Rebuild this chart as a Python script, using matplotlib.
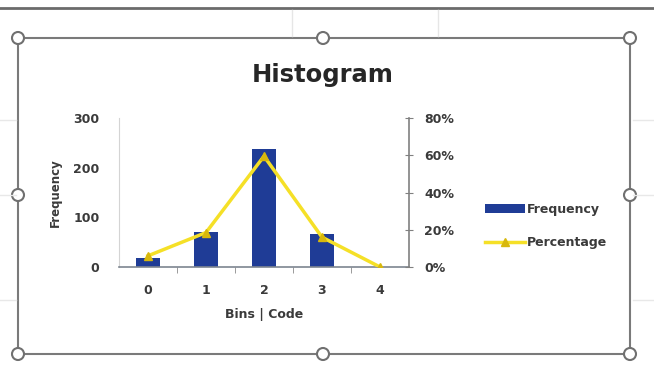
import matplotlib.pyplot as plt
import numpy as np
from matplotlib.patches import Rectangle, Circle
from matplotlib.lines import Line2D
from matplotlib.ticker import FixedLocator, PercentFormatter

bins = ["0", "1", "2", "3", "4"]
frequency = [18, 70, 238, 66, 0]
percentage = [0.06, 0.185, 0.595, 0.16, 0.0]

bar_color = '#1f3c96'
line_color = '#f5e027'
marker_color = '#d8b80c'
text_color = '#3a3a3a'

W, H = 654, 366
fig = plt.figure(figsize=(W / 100, H / 100), dpi=100)

# screenshot background: sheet lines, chart frame and selection handles
bg = fig.add_axes([0, 0, 1, 1], zorder=-1)
bg.set_xlim(0, W)
bg.set_ylim(H, 0)
bg.axis('off')
bg.add_line(Line2D([0, W], [8, 8], color='#6b6b6b', lw=2))
for x in [292, 438]:
    bg.add_line(Line2D([x, x], [10, 36], color='#e6e6e6', lw=1))
for y in [120, 195, 300]:
    bg.add_line(Line2D([0, 16], [y, y], color='#e8e8e8', lw=1))
    bg.add_line(Line2D([633, W], [y, y], color='#e8e8e8', lw=1))
bg.add_patch(Rectangle((18, 38), 612, 316, fill=False, ec='#7a7a7a', lw=1.5))
for cx, cy in [(18, 38), (323, 38), (630, 38), (18, 195), (630, 195),
               (18, 354), (323, 354), (630, 354)]:
    bg.add_patch(Circle((cx, cy), 6, fc='white', ec='#707070', lw=1.5))

ax = fig.add_axes([119 / W, 1 - 267 / H, (409 - 119) / W, (267 - 118) / H])
x = np.arange(len(bins))
ax.bar(x, frequency, width=0.42, color=bar_color, label='Frequency', zorder=2)
ax.set_xlim(-0.5, 4.5)
ax.set_ylim(0, 300)
ax.set_yticks([0, 100, 200, 300])
ax.set_xticks(x)
ax.set_xticklabels(bins)
ax.xaxis.set_minor_locator(FixedLocator([0.5, 1.5, 2.5, 3.5]))
ax.tick_params(axis='x', which='major', length=0, pad=12)
ax.tick_params(axis='x', which='minor', length=4, color='#8a8a8a', direction='out')
ax.tick_params(axis='y', length=0, pad=14)
for lab in ax.get_xticklabels() + ax.get_yticklabels():
    lab.set_fontweight('bold')
    lab.set_fontsize(9)
    lab.set_color(text_color)
for s in ['top', 'right']:
    ax.spines[s].set_visible(False)
ax.spines['left'].set_color('#d4d4d4')
ax.spines['bottom'].set_color('#7d8590')
ax.spines['bottom'].set_linewidth(1.2)
ax.set_xlabel('Bins | Code', fontsize=9, fontweight='bold', color=text_color, labelpad=8)
ax.set_ylabel('Frequency', fontsize=8.5, fontweight='bold', color=text_color, labelpad=8)

ax2 = ax.twinx()
ax2.plot(x, percentage, color=line_color, lw=2.5, marker='^', markersize=6,
         markerfacecolor=marker_color, markeredgecolor=marker_color,
         label='Percentage', zorder=3)
ax2.set_ylim(0, 0.8)
ax2.set_yticks([0, 0.2, 0.4, 0.6, 0.8])
ax2.yaxis.set_major_formatter(PercentFormatter(1.0, decimals=0))
ax2.tick_params(axis='y', direction='inout', length=6, color='#808080', pad=8)
for lab in ax2.get_yticklabels():
    lab.set_fontweight('bold')
    lab.set_fontsize(9)
    lab.set_color(text_color)
for s in ['top', 'left', 'bottom']:
    ax2.spines[s].set_visible(False)
ax2.spines['right'].set_color('#808080')
ax2.spines['right'].set_linewidth(1.2)

fig.text(323 / W, 1 - 75 / H, 'Histogram', ha='center', va='center',
         fontsize=17.5, fontweight='bold', color='#262626')

handles = [ax.patches[0], ax2.lines[0]]
fig.legend(handles, ['Frequency', 'Percentage'], loc='center left',
           bbox_to_anchor=(474 / W, 1 - 226 / H), frameon=False,
           prop={'weight': 'bold', 'size': 9}, labelcolor=text_color,
           handlelength=3.2, handletextpad=0.1, labelspacing=1.6)

fig.savefig('out.png', dpi=100)
